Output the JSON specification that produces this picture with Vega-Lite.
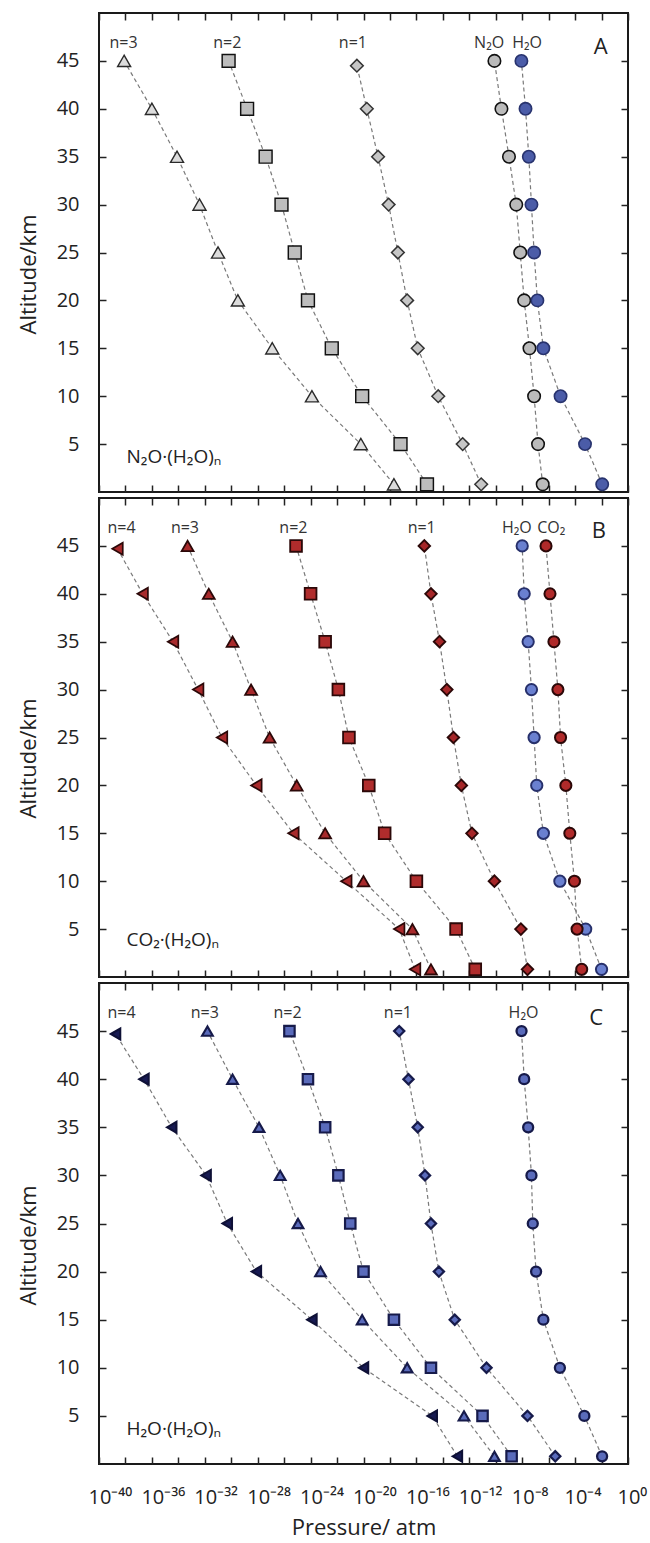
{
  "$schema": "https://vega.github.io/schema/vega-lite/v6.json",
  "background": "white",
  "padding": {"left": 16, "top": 11, "right": 5, "bottom": 5},
  "spacing": 6,
  "bounds": "flush",
  "config": {
    "view": {"stroke": "#1a1a1a", "strokeWidth": 2},
    "font": "Open Sans",
    "axis": {
      "domain": false, "grid": false, "tickColor": "#222", "tickWidth": 1.5, "tickSize": -7,
      "labelFont": "Open Sans", "labelFontSize": 20, "labelColor": "#222",
      "labelFlush": false, "labelOverlap": false, "labelBound": false,
      "titleFont": "Open Sans", "titleFontSize": 22, "titleFontWeight": "normal", "titleColor": "#222"
    }
  },
  "datasets": {
    "pts": [
      {"panel":"A","s":"A3","alt":45,"p":7.94e-39},{"panel":"A","s":"A3","alt":40,"p":1e-36},{"panel":"A","s":"A3","alt":35,"p":7.94e-35},{"panel":"A","s":"A3","alt":30,"p":3.98e-33},{"panel":"A","s":"A3","alt":25,"p":1e-31},{"panel":"A","s":"A3","alt":20,"p":3.16e-30},{"panel":"A","s":"A3","alt":15,"p":1.26e-27},{"panel":"A","s":"A3","alt":10,"p":1.26e-24},{"panel":"A","s":"A3","alt":5,"p":6.31e-21},{"panel":"A","s":"A3","alt":0.8,"p":2.0e-18},
      {"panel":"A","s":"A2","alt":45,"p":6.31e-31},{"panel":"A","s":"A2","alt":40,"p":1.58e-29},{"panel":"A","s":"A2","alt":35,"p":3.98e-28},{"panel":"A","s":"A2","alt":30,"p":6.31e-27},{"panel":"A","s":"A2","alt":25,"p":6.31e-26},{"panel":"A","s":"A2","alt":20,"p":6.31e-25},{"panel":"A","s":"A2","alt":15,"p":3.98e-23},{"panel":"A","s":"A2","alt":10,"p":7.94e-21},{"panel":"A","s":"A2","alt":5,"p":6.31e-18},{"panel":"A","s":"A2","alt":0.8,"p":6.31e-16},
      {"panel":"A","s":"A1","alt":44.5,"p":3.16e-21},{"panel":"A","s":"A1","alt":40,"p":1.78e-20},{"panel":"A","s":"A1","alt":35,"p":1.26e-19},{"panel":"A","s":"A1","alt":30,"p":7.94e-19},{"panel":"A","s":"A1","alt":25,"p":3.98e-18},{"panel":"A","s":"A1","alt":20,"p":2.0e-17},{"panel":"A","s":"A1","alt":15,"p":1.26e-16},{"panel":"A","s":"A1","alt":10,"p":4.47e-15},{"panel":"A","s":"A1","alt":5,"p":3.16e-13},{"panel":"A","s":"A1","alt":0.8,"p":7.94e-12},
      {"panel":"A","s":"AN","alt":45,"p":7.94e-11},{"panel":"A","s":"AN","alt":40,"p":2.69e-10},{"panel":"A","s":"AN","alt":35,"p":1e-9},{"panel":"A","s":"AN","alt":30,"p":3.55e-9},{"panel":"A","s":"AN","alt":25,"p":7.08e-9},{"panel":"A","s":"AN","alt":20,"p":1.41e-8},{"panel":"A","s":"AN","alt":15,"p":3.55e-8},{"panel":"A","s":"AN","alt":10,"p":7.94e-8},{"panel":"A","s":"AN","alt":5,"p":1.58e-7},{"panel":"A","s":"AN","alt":0.8,"p":3.55e-7},
      {"panel":"A","s":"AH","alt":45,"p":8.71e-9},{"panel":"A","s":"AH","alt":40,"p":1.78e-8},{"panel":"A","s":"AH","alt":35,"p":3.16e-8},{"panel":"A","s":"AH","alt":30,"p":5.01e-8},{"panel":"A","s":"AH","alt":25,"p":7.94e-8},{"panel":"A","s":"AH","alt":20,"p":1.41e-7},{"panel":"A","s":"AH","alt":15,"p":3.98e-7},{"panel":"A","s":"AH","alt":10,"p":7.94e-6},{"panel":"A","s":"AH","alt":5,"p":5.62e-4},{"panel":"A","s":"AH","alt":0.8,"p":1.12e-2},

      {"panel":"B","s":"B4","alt":44.7,"p":2.51e-39},{"panel":"B","s":"B4","alt":40,"p":2.0e-37},{"panel":"B","s":"B4","alt":35,"p":3.98e-35},{"panel":"B","s":"B4","alt":30,"p":3.16e-33},{"panel":"B","s":"B4","alt":25,"p":2.0e-31},{"panel":"B","s":"B4","alt":20,"p":7.94e-29},{"panel":"B","s":"B4","alt":15,"p":5.01e-26},{"panel":"B","s":"B4","alt":10,"p":5.01e-22},{"panel":"B","s":"B4","alt":5,"p":5.01e-18},{"panel":"B","s":"B4","alt":0.8,"p":7.94e-17},
      {"panel":"B","s":"B3","alt":45,"p":5.01e-34},{"panel":"B","s":"B3","alt":40,"p":2.0e-32},{"panel":"B","s":"B3","alt":35,"p":1.26e-30},{"panel":"B","s":"B3","alt":30,"p":3.16e-29},{"panel":"B","s":"B3","alt":25,"p":7.94e-28},{"panel":"B","s":"B3","alt":20,"p":8.91e-26},{"panel":"B","s":"B3","alt":15,"p":1.26e-23},{"panel":"B","s":"B3","alt":10,"p":1e-20},{"panel":"B","s":"B3","alt":5,"p":5.01e-17},{"panel":"B","s":"B3","alt":0.8,"p":1.26e-15},
      {"panel":"B","s":"B2","alt":45,"p":7.94e-26},{"panel":"B","s":"B2","alt":40,"p":1e-24},{"panel":"B","s":"B2","alt":35,"p":1.26e-23},{"panel":"B","s":"B2","alt":30,"p":1.26e-22},{"panel":"B","s":"B2","alt":25,"p":7.94e-22},{"panel":"B","s":"B2","alt":20,"p":2.51e-20},{"panel":"B","s":"B2","alt":15,"p":3.98e-19},{"panel":"B","s":"B2","alt":10,"p":1e-16},{"panel":"B","s":"B2","alt":5,"p":1e-13},{"panel":"B","s":"B2","alt":0.8,"p":2.82e-12},
      {"panel":"B","s":"B1","alt":45,"p":3.98e-16},{"panel":"B","s":"B1","alt":40,"p":1.26e-15},{"panel":"B","s":"B1","alt":35,"p":5.62e-15},{"panel":"B","s":"B1","alt":30,"p":2.0e-14},{"panel":"B","s":"B1","alt":25,"p":6.31e-14},{"panel":"B","s":"B1","alt":20,"p":2.51e-13},{"panel":"B","s":"B1","alt":15,"p":1.58e-12},{"panel":"B","s":"B1","alt":10,"p":7.94e-11},{"panel":"B","s":"B1","alt":5,"p":7.94e-9},{"panel":"B","s":"B1","alt":0.8,"p":2.51e-8},
      {"panel":"B","s":"BH","alt":45,"p":1e-8},{"panel":"B","s":"BH","alt":40,"p":1.41e-8},{"panel":"B","s":"BH","alt":35,"p":2.82e-8},{"panel":"B","s":"BH","alt":30,"p":5.01e-8},{"panel":"B","s":"BH","alt":25,"p":7.94e-8},{"panel":"B","s":"BH","alt":20,"p":1.26e-7},{"panel":"B","s":"BH","alt":15,"p":3.98e-7},{"panel":"B","s":"BH","alt":10,"p":7.08e-6},{"panel":"B","s":"BH","alt":5,"p":6.31e-4},{"panel":"B","s":"BH","alt":0.8,"p":1e-2},
      {"panel":"B","s":"BC","alt":45,"p":6.31e-7},{"panel":"B","s":"BC","alt":40,"p":1.26e-6},{"panel":"B","s":"BC","alt":35,"p":2.51e-6},{"panel":"B","s":"BC","alt":30,"p":5.01e-6},{"panel":"B","s":"BC","alt":25,"p":7.94e-6},{"panel":"B","s":"BC","alt":20,"p":2.0e-5},{"panel":"B","s":"BC","alt":15,"p":3.98e-5},{"panel":"B","s":"BC","alt":10,"p":8.91e-5},{"panel":"B","s":"BC","alt":5,"p":1.41e-4},{"panel":"B","s":"BC","alt":0.8,"p":3.16e-4},

      {"panel":"C","s":"C4","alt":44.7,"p":1.78e-39},{"panel":"C","s":"C4","alt":40,"p":2.51e-37},{"panel":"C","s":"C4","alt":35,"p":3.16e-35},{"panel":"C","s":"C4","alt":30,"p":1.26e-32},{"panel":"C","s":"C4","alt":25,"p":5.01e-31},{"panel":"C","s":"C4","alt":20,"p":7.94e-29},{"panel":"C","s":"C4","alt":15,"p":1.26e-24},{"panel":"C","s":"C4","alt":10,"p":1e-20},{"panel":"C","s":"C4","alt":5,"p":1.58e-15},{"panel":"C","s":"C4","alt":0.8,"p":1.26e-13},
      {"panel":"C","s":"C3","alt":45,"p":1.58e-32},{"panel":"C","s":"C3","alt":40,"p":1.26e-30},{"panel":"C","s":"C3","alt":35,"p":1.26e-28},{"panel":"C","s":"C3","alt":30,"p":5.01e-27},{"panel":"C","s":"C3","alt":25,"p":1.12e-25},{"panel":"C","s":"C3","alt":20,"p":5.62e-24},{"panel":"C","s":"C3","alt":15,"p":7.94e-21},{"panel":"C","s":"C3","alt":10,"p":2.0e-17},{"panel":"C","s":"C3","alt":5,"p":3.98e-13},{"panel":"C","s":"C3","alt":0.8,"p":7.94e-11},
      {"panel":"C","s":"C2","alt":45,"p":2.51e-26},{"panel":"C","s":"C2","alt":40,"p":6.31e-25},{"panel":"C","s":"C2","alt":35,"p":1.26e-23},{"panel":"C","s":"C2","alt":30,"p":1.26e-22},{"panel":"C","s":"C2","alt":25,"p":1e-21},{"panel":"C","s":"C2","alt":20,"p":1e-20},{"panel":"C","s":"C2","alt":15,"p":2.0e-18},{"panel":"C","s":"C2","alt":10,"p":1.26e-15},{"panel":"C","s":"C2","alt":5,"p":1e-11},{"panel":"C","s":"C2","alt":0.8,"p":1.58e-9},
      {"panel":"C","s":"C1","alt":45,"p":5.01e-18},{"panel":"C","s":"C1","alt":40,"p":2.51e-17},{"panel":"C","s":"C1","alt":35,"p":1.26e-16},{"panel":"C","s":"C1","alt":30,"p":4.47e-16},{"panel":"C","s":"C1","alt":25,"p":1.26e-15},{"panel":"C","s":"C1","alt":20,"p":5.01e-15},{"panel":"C","s":"C1","alt":15,"p":7.94e-14},{"panel":"C","s":"C1","alt":10,"p":2.0e-11},{"panel":"C","s":"C1","alt":5,"p":2.51e-8},{"panel":"C","s":"C1","alt":0.8,"p":3.16e-6},
      {"panel":"C","s":"CH","alt":45,"p":8.91e-9},{"panel":"C","s":"CH","alt":40,"p":1.41e-8},{"panel":"C","s":"CH","alt":35,"p":2.82e-8},{"panel":"C","s":"CH","alt":30,"p":5.01e-8},{"panel":"C","s":"CH","alt":25,"p":6.31e-8},{"panel":"C","s":"CH","alt":20,"p":1.12e-7},{"panel":"C","s":"CH","alt":15,"p":3.98e-7},{"panel":"C","s":"CH","alt":10,"p":7.08e-6},{"panel":"C","s":"CH","alt":5,"p":5.01e-4},{"panel":"C","s":"CH","alt":0.8,"p":1.1e-2}
    ],
    "labs": [
      {"panel":"A","lab":"n=3","p":7.08e-39},{"panel":"A","lab":"n=2","p":5.01e-31},{"panel":"A","lab":"n=1","p":1.58e-21},{"panel":"A","lab":"N₂O","p":3.16e-11},{"panel":"A","lab":"H₂O","p":2.34e-8},
      {"panel":"B","lab":"n=4","p":5.01e-39},{"panel":"B","lab":"n=3","p":3.16e-34},{"panel":"B","lab":"n=2","p":5.01e-26},{"panel":"B","lab":"n=1","p":2.51e-16},{"panel":"B","lab":"H₂O","p":3.98e-9},{"panel":"B","lab":"CO₂","p":1.58e-6},
      {"panel":"C","lab":"n=4","p":5.01e-39},{"panel":"C","lab":"n=3","p":1e-32},{"panel":"C","lab":"n=2","p":1.78e-26},{"panel":"C","lab":"n=1","p":3.98e-18},{"panel":"C","lab":"H₂O","p":1.26e-8}
    ]
  },
  "vconcat": [
    {
      "width": 529, "height": 479,
      "layer": [
        {"data":{"name":"pts"},"transform":[{"filter":"datum.panel=='A'"}],
         "mark":{"type":"line","stroke":"#7a7a7a","strokeWidth":1.2,"strokeDash":[4,3]},
         "encoding":{
           "x":{"field":"p","type":"quantitative","scale":{"type":"log","domain":[1e-40,1],"nice":false},
                "axis":{"orient":"bottom","values":[1e-40,1e-38,1e-36,1e-34,1e-32,1e-30,1e-28,1e-26,1e-24,1e-22,1e-20,1e-18,1e-16,1e-14,1e-12,1e-10,1e-8,1e-6,1e-4,1e-2,1],"labels":false,"title":null}},
           "y":{"field":"alt","type":"quantitative","scale":{"domain":[0,50],"nice":false,"zero":false},
                "axis":{"orient":"left","values":[5,10,15,20,25,30,35,40,45],"title":"Altitude/km","labelFontSize":20,"labelPadding":27,"titlePadding":16,"titleY":261}},
           "detail":{"field":"s"},"order":{"field":"alt"}}},
        {"data":{"name":"pts"},"transform":[{"filter":"datum.panel=='A'"}],
         "mark":{"type":"point","filled":true,"opacity":1},
         "encoding":{
           "x":{"field":"p","type":"quantitative","scale":{"type":"log","domain":[1e-40,1],"nice":false},
                "axis":{"orient":"top","values":[1e-40,1e-38,1e-36,1e-34,1e-32,1e-30,1e-28,1e-26,1e-24,1e-22,1e-20,1e-18,1e-16,1e-14,1e-12,1e-10,1e-8,1e-6,1e-4,1e-2,1],"labels":false,"title":null}},
           "y":{"field":"alt","type":"quantitative","scale":{"domain":[0,50],"nice":false,"zero":false},
                "axis":{"orient":"right","values":[5,10,15,20,25,30,35,40,45],"labels":false,"title":null}},
           "shape":{"field":"s","legend":null,"scale":{"domain":["A3","A2","A1","AN","AH","B4","B3","B2","B1","BH","BC","C4","C3","C2","C1","CH"],"range":["triangle-up","square","diamond","circle","circle","triangle-left","triangle-up","square","diamond","circle","circle","triangle-left","triangle-up","square","diamond","circle"]}},
           "fill":{"field":"s","legend":null,"scale":{"domain":["A3","A2","A1","AN","AH","B4","B3","B2","B1","BH","BC","C4","C3","C2","C1","CH"],"range":["#dcdcdc","#bdbdbd","#c6c6c6","#bbbbbb","#4b5ca8","#a82a2c","#a82a2c","#b02c2c","#a52628","#6a80d0","#b02a2a","#171a52","#5a6bbb","#5a6bbb","#5a6bbb","#5a6bbb"]}},
           "stroke":{"field":"s","legend":null,"scale":{"domain":["A3","A2","A1","AN","AH","B4","B3","B2","B1","BH","BC","C4","C3","C2","C1","CH"],"range":["#2a2a2a","#111111","#333333","#111111","#28336e","#2b0808","#2b0808","#2b0808","#2b0808","#27306b","#2b0808","#0e1036","#161a4a","#161a4a","#161a4a","#161a4a"]}},
           "size":{"field":"s","legend":null,"scale":{"domain":["A3","A2","A1","AN","AH","B4","B3","B2","B1","BH","BC","C4","C3","C2","C1","CH"],"range":[170,100,85,80,70,170,180,125,115,85,85,180,150,125,115,85]}},
           "strokeWidth":{"field":"s","legend":null,"scale":{"domain":["A3","A2","A1","AN","AH","B4","B3","B2","B1","BH","BC","C4","C3","C2","C1","CH"],"range":[1.4,2.3,1.4,2.3,1,1.4,1.4,1.4,1.4,1,1,1.4,1.4,1.4,1.4,1.4]}}}},
        {"data":{"name":"labs"},"transform":[{"filter":"datum.panel=='A'"}],
         "mark":{"type":"text","fontSize":16,"color":"#333","baseline":"middle"},
         "encoding":{"x":{"field":"p","type":"quantitative","axis":null},"y":{"datum":46.9,"type":"quantitative","axis":null},"text":{"field":"lab"}}},
        {"data":{"values":[{}]},
         "mark":{"type":"text","text":"A","fontSize":22,"color":"#222","baseline":"middle"},
         "encoding":{"x":{"datum":0.0085,"type":"quantitative","axis":null},"y":{"datum":46.5,"type":"quantitative","axis":null}}},
        {"data":{"values":[{}]},
         "mark":{"type":"text","text":"N₂O·(H₂O)ₙ","fontSize":19,"color":"#222","align":"left","baseline":"middle"},
         "encoding":{"x":{"datum":1.2e-38,"type":"quantitative","axis":null},"y":{"datum":3.7,"type":"quantitative","axis":null}}}
      ],
      "resolve":{"axis":{"x":"independent","y":"independent"}}
    },
    {
      "width": 529, "height": 479,
      "layer": [
        {"data":{"name":"pts"},"transform":[{"filter":"datum.panel=='B'"}],
         "mark":{"type":"line","stroke":"#7a7a7a","strokeWidth":1.2,"strokeDash":[4,3]},
         "encoding":{
           "x":{"field":"p","type":"quantitative","scale":{"type":"log","domain":[1e-40,1],"nice":false},
                "axis":{"orient":"bottom","values":[1e-40,1e-38,1e-36,1e-34,1e-32,1e-30,1e-28,1e-26,1e-24,1e-22,1e-20,1e-18,1e-16,1e-14,1e-12,1e-10,1e-8,1e-6,1e-4,1e-2,1],"labels":false,"title":null}},
           "y":{"field":"alt","type":"quantitative","scale":{"domain":[0,50],"nice":false,"zero":false},
                "axis":{"orient":"left","values":[5,10,15,20,25,30,35,40,45],"title":"Altitude/km","labelFontSize":20,"labelPadding":27,"titlePadding":16,"titleY":260}},
           "detail":{"field":"s"},"order":{"field":"alt"}}},
        {"data":{"name":"pts"},"transform":[{"filter":"datum.panel=='B'"}],
         "mark":{"type":"point","filled":true,"opacity":1},
         "encoding":{
           "x":{"field":"p","type":"quantitative","scale":{"type":"log","domain":[1e-40,1],"nice":false},
                "axis":{"orient":"top","values":[1e-40,1e-38,1e-36,1e-34,1e-32,1e-30,1e-28,1e-26,1e-24,1e-22,1e-20,1e-18,1e-16,1e-14,1e-12,1e-10,1e-8,1e-6,1e-4,1e-2,1],"labels":false,"title":null}},
           "y":{"field":"alt","type":"quantitative","scale":{"domain":[0,50],"nice":false,"zero":false},
                "axis":{"orient":"right","values":[5,10,15,20,25,30,35,40,45],"labels":false,"title":null}},
           "shape":{"field":"s","legend":null,"scale":{"domain":["A3","A2","A1","AN","AH","B4","B3","B2","B1","BH","BC","C4","C3","C2","C1","CH"],"range":["triangle-up","square","diamond","circle","circle","triangle-left","triangle-up","square","diamond","circle","circle","triangle-left","triangle-up","square","diamond","circle"]}},
           "fill":{"field":"s","legend":null,"scale":{"domain":["A3","A2","A1","AN","AH","B4","B3","B2","B1","BH","BC","C4","C3","C2","C1","CH"],"range":["#dcdcdc","#bdbdbd","#c6c6c6","#bbbbbb","#4b5ca8","#a82a2c","#a82a2c","#b02c2c","#a52628","#6a80d0","#b02a2a","#171a52","#5a6bbb","#5a6bbb","#5a6bbb","#5a6bbb"]}},
           "stroke":{"field":"s","legend":null,"scale":{"domain":["A3","A2","A1","AN","AH","B4","B3","B2","B1","BH","BC","C4","C3","C2","C1","CH"],"range":["#2a2a2a","#111111","#333333","#111111","#28336e","#2b0808","#2b0808","#2b0808","#2b0808","#27306b","#2b0808","#0e1036","#161a4a","#161a4a","#161a4a","#161a4a"]}},
           "size":{"field":"s","legend":null,"scale":{"domain":["A3","A2","A1","AN","AH","B4","B3","B2","B1","BH","BC","C4","C3","C2","C1","CH"],"range":[170,100,85,80,70,170,180,125,115,85,85,180,150,125,115,85]}},
           "strokeWidth":{"field":"s","legend":null,"scale":{"domain":["A3","A2","A1","AN","AH","B4","B3","B2","B1","BH","BC","C4","C3","C2","C1","CH"],"range":[1.4,2.3,1.4,2.3,1,1.4,1.4,1.4,1.4,1,1,1.4,1.4,1.4,1.4,1.4]}}}},
        {"data":{"name":"labs"},"transform":[{"filter":"datum.panel=='B'"}],
         "mark":{"type":"text","fontSize":16,"color":"#333","baseline":"middle"},
         "encoding":{"x":{"field":"p","type":"quantitative","axis":null},"y":{"datum":46.9,"type":"quantitative","axis":null},"text":{"field":"lab"}}},
        {"data":{"values":[{}]},
         "mark":{"type":"text","text":"B","fontSize":22,"color":"#222","baseline":"middle"},
         "encoding":{"x":{"datum":0.0063,"type":"quantitative","axis":null},"y":{"datum":46.6,"type":"quantitative","axis":null}}},
        {"data":{"values":[{}]},
         "mark":{"type":"text","text":"CO₂·(H₂O)ₙ","fontSize":19,"color":"#222","align":"left","baseline":"middle"},
         "encoding":{"x":{"datum":1.2e-38,"type":"quantitative","axis":null},"y":{"datum":3.9,"type":"quantitative","axis":null}}}
      ],
      "resolve":{"axis":{"x":"independent","y":"independent"}}
    },
    {
      "width": 529, "height": 481,
      "layer": [
        {"data":{"name":"pts"},"transform":[{"filter":"datum.panel=='C'"}],
         "mark":{"type":"line","stroke":"#7a7a7a","strokeWidth":1.2,"strokeDash":[4,3]},
         "encoding":{
           "x":{"field":"p","type":"quantitative","scale":{"type":"log","domain":[1e-40,1],"nice":false},
                "axis":{"orient":"bottom","values":[1e-40,1e-38,1e-36,1e-34,1e-32,1e-30,1e-28,1e-26,1e-24,1e-22,1e-20,1e-18,1e-16,1e-14,1e-12,1e-10,1e-8,1e-6,1e-4,1e-2,1],"title":"Pressure/ atm","labelFontSize":20,"labelAlign":"left","labelOffset":-11,"labelPadding":30,"titlePadding":10,
                        "labelExpr":"abs(round(log(datum.value)/LN10)) % 4 == 0 ? '10' + ['⁰','⁻⁴','⁻⁸','⁻¹²','⁻¹⁶','⁻²⁰','⁻²⁴','⁻²⁸','⁻³²','⁻³⁶','⁻⁴⁰'][abs(round(log(datum.value)/LN10))/4] : ''"}},
           "y":{"field":"alt","type":"quantitative","scale":{"domain":[0,50],"nice":false,"zero":false},
                "axis":{"orient":"left","values":[5,10,15,20,25,30,35,40,45],"title":"Altitude/km","labelFontSize":20,"labelPadding":27,"titlePadding":16,"titleY":262}},
           "detail":{"field":"s"},"order":{"field":"alt"}}},
        {"data":{"name":"pts"},"transform":[{"filter":"datum.panel=='C'"}],
         "mark":{"type":"point","filled":true,"opacity":1},
         "encoding":{
           "x":{"field":"p","type":"quantitative","scale":{"type":"log","domain":[1e-40,1],"nice":false},
                "axis":{"orient":"top","values":[1e-40,1e-38,1e-36,1e-34,1e-32,1e-30,1e-28,1e-26,1e-24,1e-22,1e-20,1e-18,1e-16,1e-14,1e-12,1e-10,1e-8,1e-6,1e-4,1e-2,1],"labels":false,"title":null}},
           "y":{"field":"alt","type":"quantitative","scale":{"domain":[0,50],"nice":false,"zero":false},
                "axis":{"orient":"right","values":[5,10,15,20,25,30,35,40,45],"labels":false,"title":null}},
           "shape":{"field":"s","legend":null,"scale":{"domain":["A3","A2","A1","AN","AH","B4","B3","B2","B1","BH","BC","C4","C3","C2","C1","CH"],"range":["triangle-up","square","diamond","circle","circle","triangle-left","triangle-up","square","diamond","circle","circle","triangle-left","triangle-up","square","diamond","circle"]}},
           "fill":{"field":"s","legend":null,"scale":{"domain":["A3","A2","A1","AN","AH","B4","B3","B2","B1","BH","BC","C4","C3","C2","C1","CH"],"range":["#dcdcdc","#bdbdbd","#c6c6c6","#bbbbbb","#4b5ca8","#a82a2c","#a82a2c","#b02c2c","#a52628","#6a80d0","#b02a2a","#171a52","#5a6bbb","#5a6bbb","#5a6bbb","#5a6bbb"]}},
           "stroke":{"field":"s","legend":null,"scale":{"domain":["A3","A2","A1","AN","AH","B4","B3","B2","B1","BH","BC","C4","C3","C2","C1","CH"],"range":["#2a2a2a","#111111","#333333","#111111","#28336e","#2b0808","#2b0808","#2b0808","#2b0808","#27306b","#2b0808","#0e1036","#161a4a","#161a4a","#161a4a","#161a4a"]}},
           "size":{"field":"s","legend":null,"scale":{"domain":["A3","A2","A1","AN","AH","B4","B3","B2","B1","BH","BC","C4","C3","C2","C1","CH"],"range":[170,100,85,80,70,170,180,125,115,85,85,180,150,125,115,85]}},
           "strokeWidth":{"field":"s","legend":null,"scale":{"domain":["A3","A2","A1","AN","AH","B4","B3","B2","B1","BH","BC","C4","C3","C2","C1","CH"],"range":[1.4,2.3,1.4,2.3,1,1.4,1.4,1.4,1.4,1,1,1.4,1.4,1.4,1.4,1.4]}}}},
        {"data":{"name":"labs"},"transform":[{"filter":"datum.panel=='C'"}],
         "mark":{"type":"text","fontSize":16,"color":"#333","baseline":"middle"},
         "encoding":{"x":{"field":"p","type":"quantitative","axis":null},"y":{"datum":46.9,"type":"quantitative","axis":null},"text":{"field":"lab"}}},
        {"data":{"values":[{}]},
         "mark":{"type":"text","text":"C","fontSize":22,"color":"#222","baseline":"middle"},
         "encoding":{"x":{"datum":0.004,"type":"quantitative","axis":null},"y":{"datum":46.4,"type":"quantitative","axis":null}}},
        {"data":{"values":[{}]},
         "mark":{"type":"text","text":"H₂O·(H₂O)ₙ","fontSize":19,"color":"#222","align":"left","baseline":"middle"},
         "encoding":{"x":{"datum":1.2e-38,"type":"quantitative","axis":null},"y":{"datum":3.6,"type":"quantitative","axis":null}}}
      ],
      "resolve":{"axis":{"x":"independent","y":"independent"}}
    }
  ]
}
